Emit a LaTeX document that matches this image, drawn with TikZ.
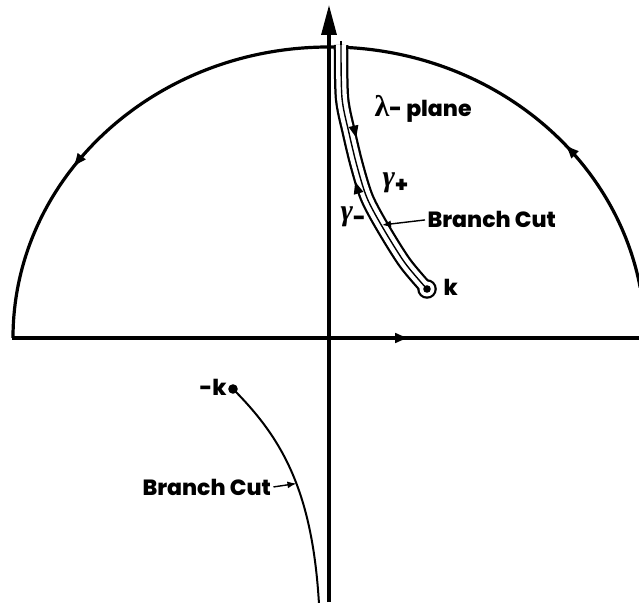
\documentclass[tikz,border=0pt]{standalone}
\usepackage{fontspec}
\setmainfont{Poppins}[BoldFont={* ExtraBold}]
\newfontfamily\grkfont{Liberation Serif}
\usetikzlibrary{arrows.meta,decorations.markings}
\newcommand\grk[1]{{\grkfont\fontsize{30}{30}\selectfont #1}}
\begin{document}
\begin{tikzpicture}[x=1pt, y=1pt, >={Latex[length=9pt,width=7pt]}, line width=3.2pt,
    font=\bfseries\fontsize{22}{24}\selectfont,
    lbl/.style={inner sep=1pt},
    midarrow/.style={postaction={decorate}, decoration={markings,
        mark=at position #1 with {\arrow{Latex[length=15pt,width=11pt]}}}},
    thin cut/.style={line width=1.4pt}]
    \useasboundingbox (-329,-264) rectangle (310,338);

    \coordinate (O)  at (0,0);
    \coordinate (k)  at (98,49);
    \coordinate (mk) at (-96,-51);
    \def\cutpath{plot[smooth] coordinates {(12,293) (13,240) (20,205) (28,172) (38,140) (54,110) (76,75) (98,49)}}

    \draw[-{Triangle[length=30pt,width=15pt]}] (0,-264) -- (0,333);
    \draw[midarrow=0.635] (-317,0) -- (310,0);
    \draw[midarrow=0.62] (6,291) -- (0,291) arc[start angle=90, end angle=180, x radius=316, y radius=291];
    \draw[midarrow=0.40] (O) ++(10:316 and 291) arc[start angle=10, end angle=87, x radius=316, y radius=291] -- (18,291);

    \draw[line width=14.5pt] \cutpath;
    \fill (k) circle (9.8);
    \draw[white, line width=10pt] \cutpath;
    \fill[white] (k) circle (7.5);
    \draw[thin cut] (12,297) -- (12,293);
    \draw[thin cut, postaction={decorate}, decoration={markings,
        mark=at position 0.357 with {\fill (0,6) -- (-12,11) -- (-12,1) -- cycle;},
        mark=at position 0.517 with {\fill (0,-6) -- (12,-11) -- (12,-1) -- cycle;}}] \cutpath;
    \fill (k) circle (3.8);

    \draw[line width=2pt] (mk) .. controls (-46,-101) and (-16.6,-154) .. coordinate[pos=0.55] (cutlowpt) (-10,-266);
    \fill (mk) circle (4.8);

    \node[lbl, anchor=base west] (plane) at (43,221) {\grk{λ}- plane};
    \node[lbl, anchor=base west] (gp) at (51,151) {\grk{\itshape γ}\raisebox{-6pt}{+}};
    \node[lbl, anchor=base west] (gm) at (9,117) {\grk{\itshape γ}\raisebox{-5pt}{-}};
    \node[lbl, anchor=base west] (klbl) at (112,42) {k};
    \node[lbl, anchor=base west] (mklbl) at (-132,-57) {-k};
    \node[lbl, anchor=base west] (cutup) at (96,110) {Branch Cut};
    \node[lbl, anchor=base west] (cutlow) at (-189,-157) {Branch Cut};

    \coordinate (cutuppt) at (53,113);
    \draw[->, line width=1.4pt] (cutup.west) -- (cutuppt);
    \draw[->, line width=1.4pt] (cutlow.east) -- (cutlowpt);
\end{tikzpicture}
\end{document}
